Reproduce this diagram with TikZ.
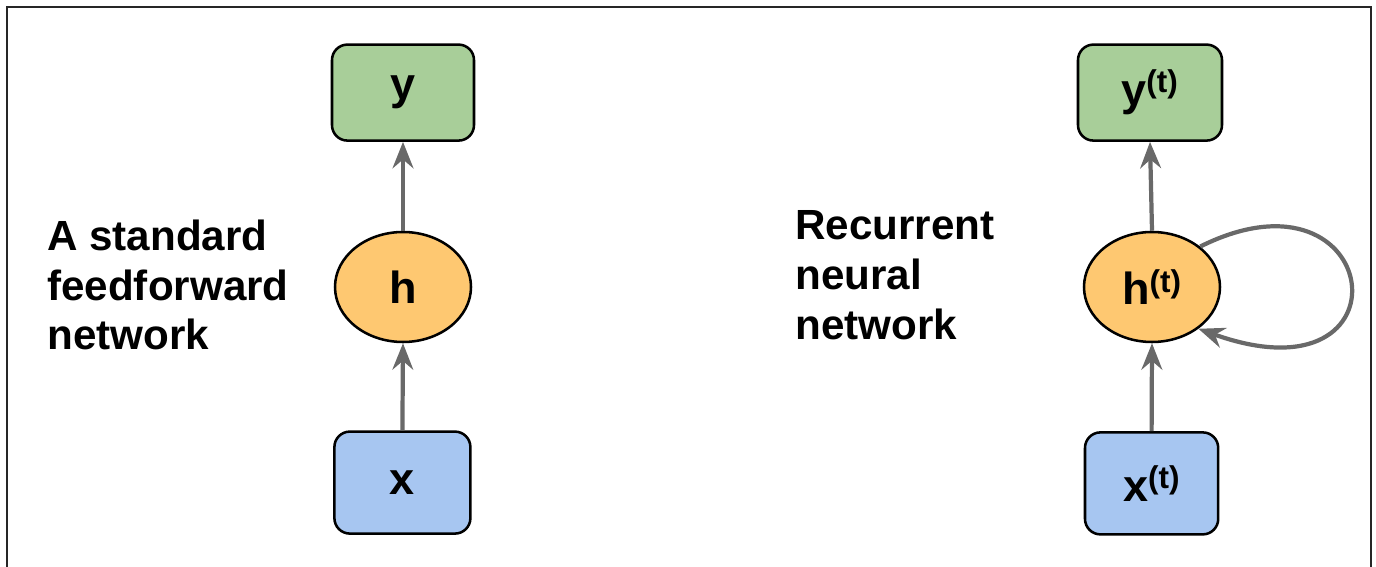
\documentclass[tikz,border=0pt]{standalone}
\usepackage{fontspec}
\setmainfont{Liberation Sans}
\usetikzlibrary{arrows.meta,positioning,shapes.geometric}
\definecolor{figgreen}{RGB}{168,206,153}
\definecolor{figorange}{RGB}{254,200,113}
\definecolor{figblue}{RGB}{167,198,241}
\definecolor{figline}{RGB}{105,105,105}
\tikzset{
  outbox/.style={draw=black, rounded corners=11pt, line width=1.8pt, fill=figgreen, minimum width=3.55cm, minimum height=2.4cm, inner sep=0pt, font=\fontsize{32}{38}\selectfont\bfseries},
  inbox/.style={draw=black, rounded corners=11pt, line width=1.8pt, fill=figblue, minimum width=3.4cm, minimum height=2.55cm, inner sep=0pt, font=\fontsize{32}{38}\selectfont\bfseries},
  hidnode/.style={draw=black, ellipse, line width=1.8pt, fill=figorange, minimum width=3.4cm, minimum height=2.75cm, inner sep=0pt, font=\fontsize{32}{38}\selectfont\bfseries},
  flow/.style={draw=figline, line width=3pt, -{Stealth[length=6.6mm, width=5.2mm, inset=2.2mm]}},
  figlabel/.style={font=\fontsize{30}{35.5}\selectfont\bfseries, align=left, inner sep=0pt}
}
\newcommand{\stp}{\textsuperscript{(t)}}

\begin{document}
\begin{tikzpicture}[x=1cm,y=1cm]
  \useasboundingbox (0,0) rectangle (34.4,14.175);
  \draw[line width=1.5pt, black!85] (0.175,-0.5) |- (34.275,14.0) -- (34.275,-0.5);

  % feedforward
  \node[figlabel, anchor=west] (fflabel) at (1.175,7.05) {A standard\\feedforward\\network};
  \node[outbox] (y1) at (10.075,11.86) {y};
  \node[hidnode] (h1) at (10.075,7.0) {h};
  \node[inbox] (x1) at (10.06,2.11) {x};

  % recurrent
  \node[figlabel, anchor=west] (rnnlabel) at (19.875,7.3) {Recurrent\\neural\\network};
  \node[outbox, minimum width=3.6cm] (y2) at (28.75,11.86) {y\stp};
  \node[hidnode] (h2) at (28.8,7.0) {h\stp};
  \node[inbox, minimum width=3.33cm] (x2) at (28.79,2.09) {x\stp};

  \draw[flow] (x1.north) -- (h1.south);
  \draw[flow] (h1.north) -- (y1.south);
  \draw[flow] (x2.north) -- (h2.south);
  \draw[flow] (h2.north) -- (y2.south);
  \draw[flow] (h2.40) .. controls (34.6,10.3) and (35.4,4.0) .. (h2.-42);
\end{tikzpicture}
\end{document}
